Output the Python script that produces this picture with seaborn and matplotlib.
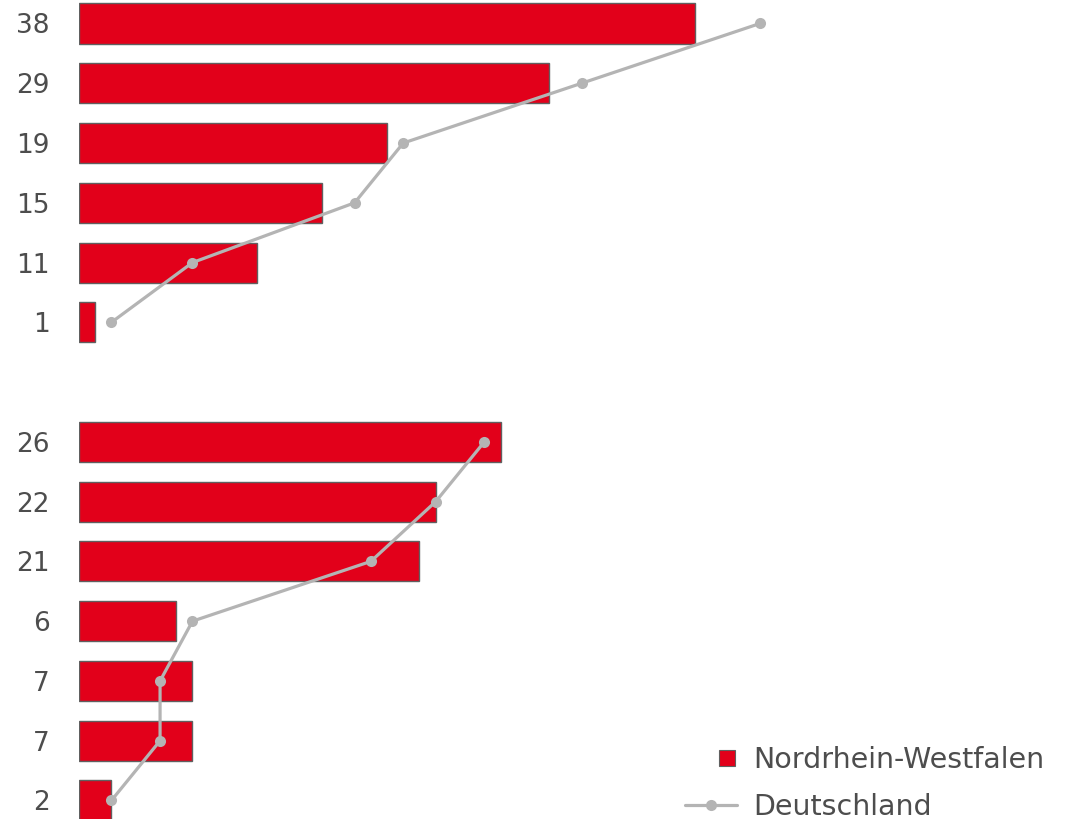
import matplotlib
matplotlib.use("Agg")
import matplotlib.pyplot as plt
from matplotlib.lines import Line2D
import seaborn as sns
import pandas as pd

# Values per group (top group, gap row, bottom group)
nrw_top = [38, 29, 19, 15, 11, 1]
de_top = [42, 31, 20, 17, 7, 2]
nrw_bottom = [26, 22, 21, 6, 7, 7, 2]
de_bottom = [25, 22, 18, 7, 5, 5, 2]

series_labels = ["Nordrhein-Westfalen", "Deutschland"]

RED = "#e2001a"
GREY_LINE = "#b4b4b4"
EDGE = "#606060"
TEXT = "#4d4d4d"

sns.set_theme(style="white")
plt.rcParams["font.family"] = ["DejaVu Sans"]

W, H = 1068, 819
pos_top = list(range(len(nrw_top)))
pos_bottom = [len(nrw_top) + 1 + i for i in range(len(nrw_bottom))]

bars = pd.DataFrame({
    "value": nrw_top + nrw_bottom,
    "row": pos_top + pos_bottom,
})

fig = plt.figure(figsize=(W / 100, H / 100), dpi=100)
ax = fig.add_axes([79 / W, 0, 1 - 79 / W, 1])

sns.barplot(data=bars, x="value", y="row", orient="h", native_scale=True,
            color=RED, saturation=1, width=0.67, edgecolor=EDGE,
            linewidth=1, ax=ax)

for vals, rows in ((de_top, pos_top), (de_bottom, pos_bottom)):
    line_df = pd.DataFrame({"value": vals, "row": rows})
    sns.lineplot(data=line_df, x="value", y="row", sort=False, estimator=None,
                 color=GREY_LINE, linewidth=2.3, marker="o", markersize=8,
                 markeredgewidth=0, ax=ax)

ax.set_xlim(0, 61.0)
ax.set_ylim(13.31, -0.393)
ax.set_yticks(pos_top + pos_bottom)
ax.set_yticklabels([str(v) for v in nrw_top + nrw_bottom])
ax.tick_params(axis="y", length=0, pad=21, labelsize=19, labelcolor=TEXT)
ax.set_xticks([])
ax.set_xlabel("")
ax.set_ylabel("")
if ax.get_legend() is not None:
    ax.get_legend().remove()
for s in ax.spines.values():
    s.set_visible(False)

LEG_FS = 20.5
em_px = LEG_FS * 100 / 72

square = Line2D([], [], linestyle="none", marker="s", markersize=11.5,
                markerfacecolor=RED, markeredgecolor=EDGE, markeredgewidth=0.8)
de_handle = Line2D([], [], color=GREY_LINE, linewidth=2.3, marker="o",
                   markersize=8, markeredgewidth=0)

fig.legend([square], [series_labels[0]], loc="center left",
           bbox_to_anchor=(719 / W, 1 - 760 / H), frameon=False,
           fontsize=LEG_FS, labelcolor=TEXT,
           handlelength=16 / em_px, handletextpad=18 / em_px,
           borderaxespad=0, borderpad=0)
fig.legend([de_handle], [series_labels[1]], loc="center left",
           bbox_to_anchor=(685 / W, 1 - 807 / H), frameon=False,
           fontsize=LEG_FS, labelcolor=TEXT,
           handlelength=52 / em_px, handletextpad=16 / em_px,
           borderaxespad=0, borderpad=0)

fig.savefig("out.png", dpi=100)
